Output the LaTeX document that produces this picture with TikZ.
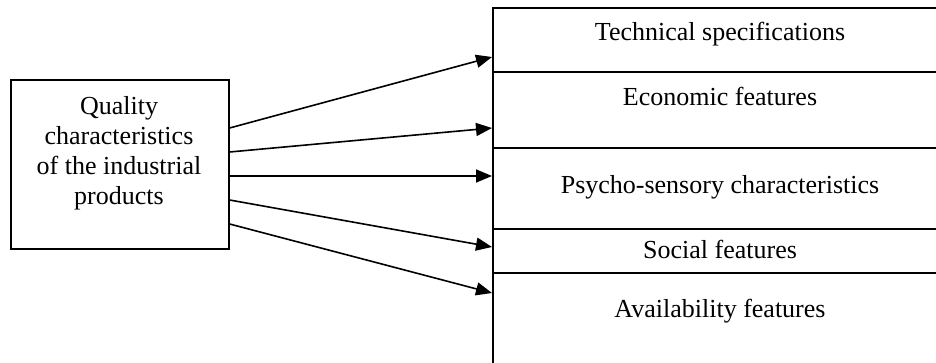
\documentclass[tikz,border=0pt]{standalone}
\usepackage{fontspec}
\setmainfont{Liberation Serif}
\usetikzlibrary{arrows.meta}
\begin{document}
\begin{tikzpicture}[x=0.5pt,y=-0.5pt,
  box/.style={draw,line width=0.8pt,inner sep=0pt,anchor=north west},
  lbl/.style={font=\fontsize{13}{15}\selectfont,align=center,inner sep=0pt},
  arr/.style={line width=0.8pt,-{Triangle[length=8pt,width=6.5pt]}}]
\clip (0,0) rectangle (936,363);
% left box
\node[box,minimum width=109pt,minimum height=84.5pt] (q) at (10,79) {};
\node[lbl] (qt) at (119,153) {Quality\\characteristics\\of the industrial\\products};
% right stacked boxes
\node[box,minimum width=228pt,minimum height=32pt] (b1) at (492,7) {};
\node[box,minimum width=228pt,minimum height=38pt] (b2) at (492,71) {};
\node[box,minimum width=228pt,minimum height=40.5pt] (b3) at (492,147) {};
\node[box,minimum width=228pt,minimum height=22pt] (b4) at (492,228) {};
\node[box,minimum width=228pt,minimum height=60pt] (b5) at (492,272) {};
\node[lbl] (t1) at (720,34) {Technical specifications};
\node[lbl] (t2) at (720,96) {Economic features};
\node[lbl] (t3) at (720,187) {Psycho-sensory characteristics};
\node[lbl] (t4) at (720,249) {Social features};
\node[lbl] (t5) at (720,311) {Availability features};
% arrows
\draw[arr] (q.east |- 0,128) -- (b1.west |- 0,57);
\draw[arr] (q.east |- 0,152) -- (b2.west |- 0,128);
\draw[arr] (q.east |- 0,176) -- (b3.west |- 0,176);
\draw[arr] (q.east |- 0,200) -- (b4.west |- 0,247);
\draw[arr] (q.east |- 0,224) -- (b5.west |- 0,293);
\end{tikzpicture}
\end{document}
